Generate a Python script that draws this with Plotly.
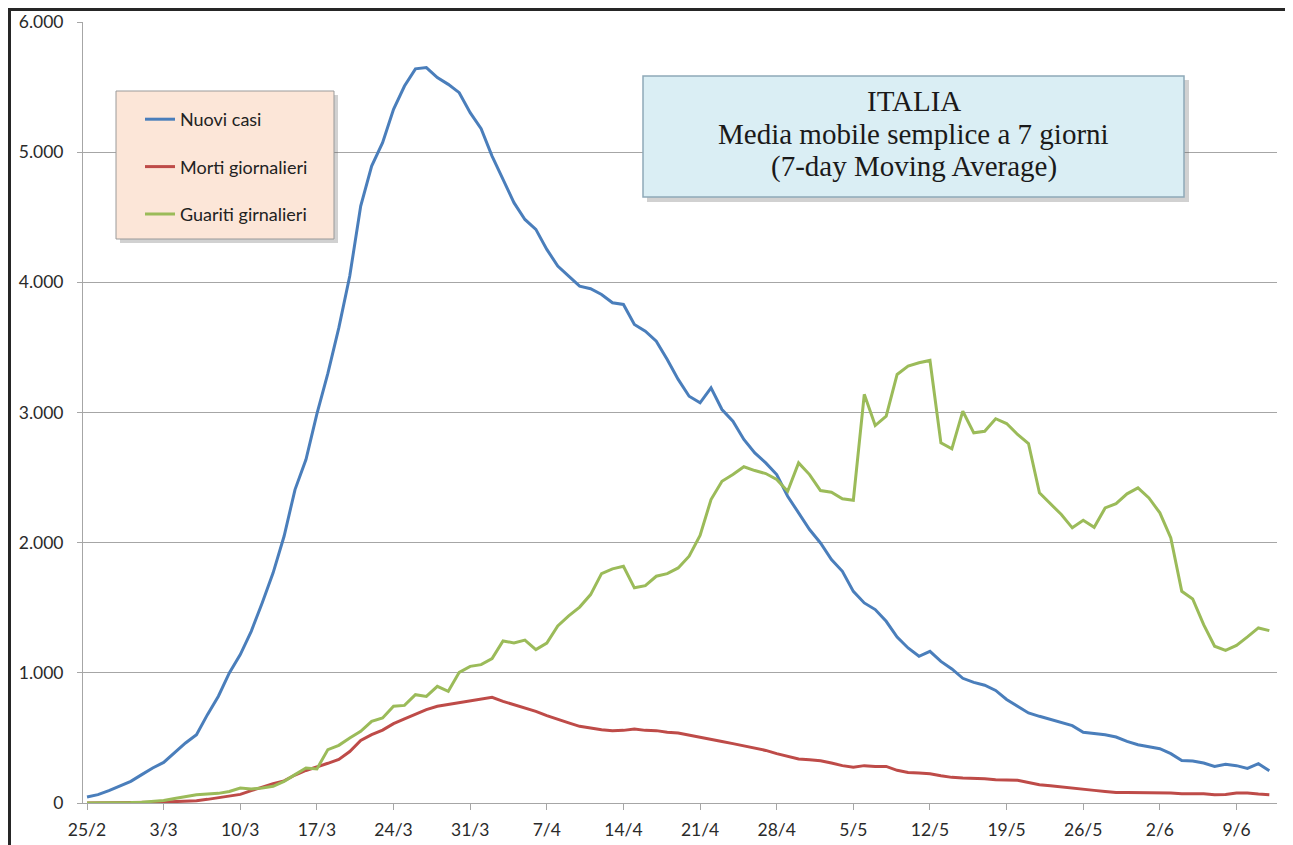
import pandas as pd
import plotly.graph_objects as go

# ---------------- data (7-day moving averages) ----------------
start_date = "2020-02-25"

nuovi_casi = [46, 64, 95, 133, 166, 218, 269, 312, 384, 461,
              525, 679, 820, 999, 1140, 1319, 1537, 1768, 2049, 2408,
              2639, 2990, 3300, 3650, 4048, 4586, 4893, 5073, 5329, 5508,
              5640, 5650, 5573, 5521, 5457, 5304, 5180, 4970, 4791, 4612,
              4483, 4407, 4253, 4125, 4048, 3971, 3951, 3907, 3843, 3830,
              3676, 3625, 3548, 3407, 3254, 3125, 3074, 3190, 3023, 2933,
              2793, 2690, 2613, 2523, 2357, 2229, 2101, 1998, 1870, 1780,
              1626, 1537, 1486, 1396, 1275, 1191, 1127, 1165, 1088, 1030,
              958, 927, 905, 865, 795, 743, 692, 666, 640, 620,
              594, 543, 533, 525, 507, 473, 448, 430, 417, 379,
              327, 323, 307, 281, 297, 287, 266, 302, 248]

morti_giornalieri = [0, 0, 1, 2, 3, 4, 5, 7, 9, 12,
                     18, 28, 40, 52, 66, 95, 123, 148, 170, 215,
                     250, 275, 305, 335, 395, 480, 525, 560, 610, 646,
                     680, 717, 743, 756, 773, 786, 799, 812, 781, 756,
                     730, 704, 671, 640, 615, 589, 576, 563, 556, 558,
                     569, 558, 556, 543, 538, 523, 507, 492, 473, 456,
                     440, 423, 404, 379, 358, 338, 333, 325, 307, 287,
                     274, 287, 281, 281, 251, 235, 231, 225, 210, 197,
                     192, 192, 187, 179, 174, 174, 158, 141, 133, 123,
                     115, 108, 97, 89, 81, 81, 81, 81, 81, 77,
                     71, 71, 71, 64, 66, 77, 77, 69, 64]

guariti_giornalieri = [0, 0, 0, 1, 3, 6, 12, 20, 35, 48,
                       64, 69, 74, 89, 115, 108, 115, 128, 166, 218,
                       269, 262, 410, 443, 500, 550, 627, 653, 743, 750,
                       832, 819, 896, 858, 1004, 1050, 1063, 1110, 1245, 1230,
                       1252, 1178, 1228, 1360, 1437, 1505, 1601, 1762, 1799, 1819,
                       1653, 1670, 1742, 1762, 1806, 1896, 2055, 2331, 2472, 2523,
                       2583, 2554, 2531, 2485, 2395, 2613, 2523, 2400, 2387, 2337,
                       2326, 3140, 2900, 2972, 3292, 3356, 3382, 3400, 2767, 2721,
                       3010, 2844, 2856, 2952, 2915, 2831, 2762, 2383, 2300, 2216,
                       2114, 2172, 2118, 2267, 2300, 2375, 2421, 2344, 2229, 2037,
                       1626, 1568, 1370, 1204, 1173, 1211, 1276, 1345, 1324]

series_names = ["Nuovi casi", "Morti giornalieri", "Guariti girnalieri"]
series_colors = ["#4A7EBB", "#BE4B48", "#9BBB59"]

y_tick_values = [0, 1000, 2000, 3000, 4000, 5000, 6000]
y_tick_labels = ["0", "1.000", "2.000", "3.000", "4.000", "5.000", "6.000"]

x_tick_dates = ["2020-02-25", "2020-03-03", "2020-03-10", "2020-03-17",
                "2020-03-24", "2020-03-31", "2020-04-07", "2020-04-14",
                "2020-04-21", "2020-04-28", "2020-05-05", "2020-05-12",
                "2020-05-19", "2020-05-26", "2020-06-02", "2020-06-09"]
x_tick_labels = ["25/2", "3/3", "10/3", "17/3", "24/3", "31/3", "7/4", "14/4",
                 "21/4", "28/4", "5/5", "12/5", "19/5", "26/5", "2/6", "9/6"]

title_lines = ["ITALIA", "Media mobile semplice a 7 giorni", "(7-day Moving Average)"]

# ---------------- layout geometry ----------------
# The page body has an 8px margin, so the figure is drawn 8px to the right / down.
OFF = 8
W, H = 1293 - OFF, 845 - OFF
PL, PR, PT, PB = 83 - OFF, 1277 - OFF, 22 - OFF, 803 - OFF


def px(x_page):
    return (x_page - OFF - PL) / (PR - PL)


def py(y_page):
    return (PB - (y_page - OFF)) / (PB - PT)


dates = pd.date_range(start_date, periods=len(nuovi_casi), freq="D")
x_range = [dates[0] - pd.Timedelta(hours=8.8), dates[0] + pd.Timedelta(days=108.7)]

fig = go.Figure()
for i, (name, vals, col) in enumerate(zip(series_names,
                                          [nuovi_casi, morti_giornalieri, guariti_giornalieri],
                                          series_colors)):
    fig.add_trace(go.Scatter(x=dates, y=vals, mode="lines", name=name,
                             legendgroup=f"g{i}",
                             line=dict(color=col, width=3)))

tick_font = dict(family="Lato, Calibri, 'Open Sans', sans-serif", size=17.5, color="#2a2a2a")

fig.update_layout(
    width=W, height=H,
    margin=dict(l=PL, r=W - PR, t=PT, b=H - PB, autoexpand=False),
    paper_bgcolor="white", plot_bgcolor="white",
    showlegend=True,
    legend=dict(x=px(140), y=py(101), xanchor="left", yanchor="top",
                bgcolor="rgba(0,0,0,0)", borderwidth=0,
                tracegroupgap=21,
                font=dict(family="Lato, Calibri, 'Open Sans', sans-serif", size=18, color="#222222")),
    xaxis=dict(type="date", range=x_range,
               tickvals=x_tick_dates, ticktext=x_tick_labels,
               showgrid=False, zeroline=False,
               showline=True, linecolor="#a6a6a6", linewidth=1,
               ticks="outside", ticklen=6, tickcolor="#a6a6a6",
               ticklabelstandoff=5, tickfont=tick_font),
    yaxis=dict(range=[0, 6000], tickvals=y_tick_values, ticktext=y_tick_labels,
               showgrid=True, gridcolor="#a6a6a6", gridwidth=1,
               zeroline=False, showline=True, linecolor="#a6a6a6", linewidth=1,
               ticks="outside", ticklen=5, tickcolor="#a6a6a6",
               ticklabelstandoff=10, tickfont=tick_font),
)

shapes = []
# outer frame of the picture
shapes.append(dict(type="rect", xref="paper", yref="paper",
                   x0=px(9.5), x1=px(1288), y0=py(870), y1=py(9.5),
                   line=dict(color="#262626", width=3), fillcolor="rgba(0,0,0,0)",
                   layer="above"))
# legend box (shadow + box)
shapes.append(dict(type="rect", xref="paper", yref="paper",
                   x0=px(120), x1=px(338), y0=py(243), y1=py(95),
                   line=dict(width=0), fillcolor="rgba(90,90,90,0.28)", layer="above"))
shapes.append(dict(type="rect", xref="paper", yref="paper",
                   x0=px(116), x1=px(334), y0=py(239), y1=py(91),
                   line=dict(color="#9a9a9a", width=1), fillcolor="#FCE6D8", layer="above"))
# title box (shadow + box)
shapes.append(dict(type="rect", xref="paper", yref="paper",
                   x0=px(647), x1=px(1189), y0=py(202), y1=py(80),
                   line=dict(width=0), fillcolor="rgba(90,90,90,0.28)", layer="above"))
shapes.append(dict(type="rect", xref="paper", yref="paper",
                   x0=px(643), x1=px(1184), y0=py(197), y1=py(76),
                   line=dict(color="#8fa9b8", width=1.5), fillcolor="#DAEEF4", layer="above"))
fig.update_layout(shapes=shapes)

for line_text, y_center in zip(title_lines, [101, 134, 166]):
    fig.add_annotation(xref="paper", yref="paper", x=px(913.5), y=py(y_center),
                       xanchor="center", yanchor="middle", showarrow=False,
                       text=line_text, align="center",
                       font=dict(family="'Liberation Serif', 'DejaVu Serif', serif",
                                 size=29, color="#1a1a1a"))

fig.write_html("out.html")
